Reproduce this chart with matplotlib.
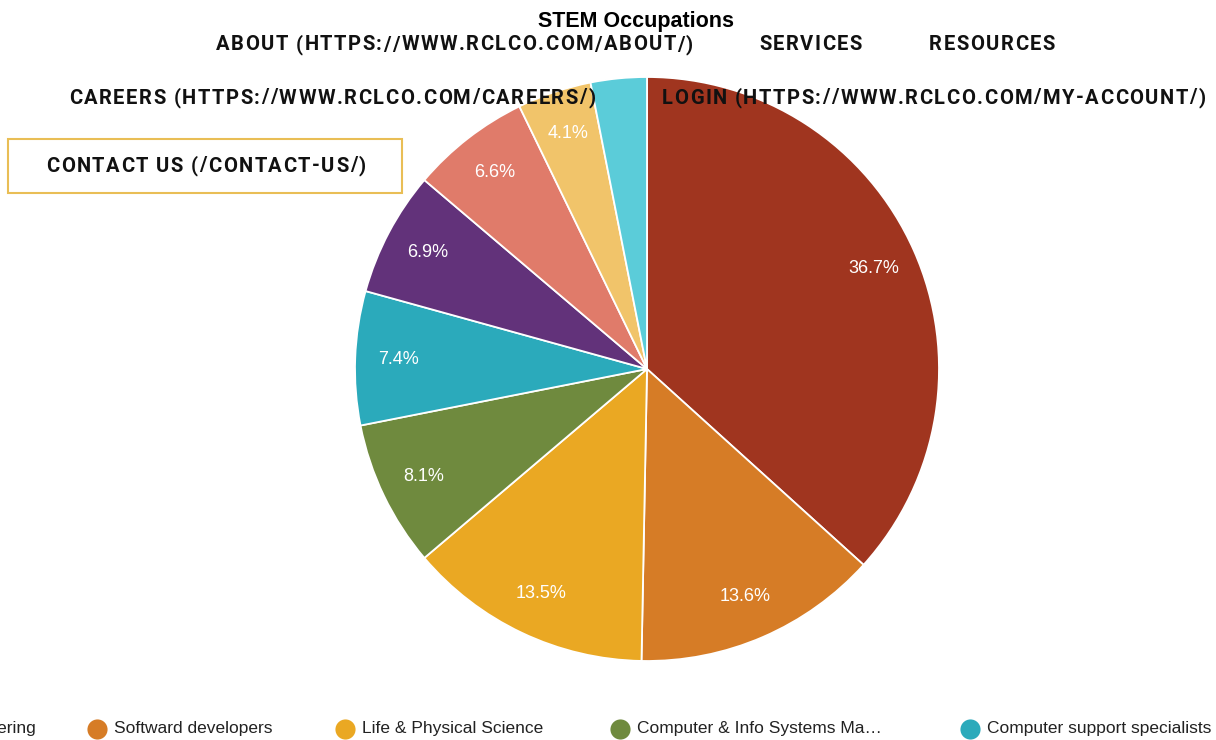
import matplotlib
matplotlib.use("Agg")
from matplotlib import pyplot as plt
from matplotlib.font_manager import FontProperties
from matplotlib.patches import Rectangle

# chart data
categories = ["Engineering", "Softward developers", "Life & Physical Science",
              "Computer & Info Systems Ma\u2026", "Computer support specialists",
              "Mathematical science", "Computer programmers", "Web developers", "Other"]
shares = [36.7, 13.6, 13.5, 8.1, 7.4, 6.9, 6.6, 4.1, 3.1]
colors = ["#A0351F", "#D67C26", "#EAA823", "#6F8A3E", "#2BAABB",
          "#62327A", "#E07B6A", "#F1C46A", "#5BCCD9"]
title = "STEM Occupations"

# website menu that sits over the chart
nav_items = ["ABOUT (HTTPS://WWW.RCLCO.COM/ABOUT/)", "SERVICES", "RESOURCES",
             "CAREERS (HTTPS://WWW.RCLCO.COM/CAREERS/)",
             "LOGIN (HTTPS://WWW.RCLCO.COM/MY-ACCOUNT/)",
             "CONTACT US (/CONTACT-US/)"]
nav_pos = [(216, 45), (759, 45), (929, 45), (69, 98), (662, 98), (46, 166)]

legend_count = 5
legend_x = [-73, 97, 345, 620, 970]
legend_y = 729

W, H = 1216, 740
fig = plt.figure(figsize=(W / 100, H / 100), dpi=100)

# pie
cx, cy, r = 647, 369, 292
ax = fig.add_axes([(cx - r) / W, (H - cy - r) / H, 2 * r / W, 2 * r / H])
wedges, texts, autotexts = ax.pie(
    shares, colors=colors, startangle=90, counterclock=False,
    autopct=lambda p: f"{p:.1f}%" if p >= 4 else "", pctdistance=0.85,
    wedgeprops=dict(edgecolor="white", linewidth=1.3),
    textprops=dict(color="white", fontsize=13, family="Liberation Sans"))
ax.set_xlim(-1, 1)
ax.set_ylim(-1, 1)

# overlay in pixel coordinates
ov = fig.add_axes([0, 0, 1, 1])
ov.set_xlim(0, W)
ov.set_ylim(H, 0)
ov.axis("off")

ov.text(636, 22, title, ha="center", va="center", fontsize=15.5,
        fontweight="bold", family="Liberation Sans", color="#000000")

renderer = fig.canvas.get_renderer()
nav_prop = FontProperties(family="Roboto", weight="bold", size=14.5)


def width_of(s, prop):
    w1 = renderer.get_text_width_height_descent("|" + s + "|", prop, ismath=False)[0]
    w0 = renderer.get_text_width_height_descent("||", prop, ismath=False)[0]
    return w1 - w0


def spaced_text(x, y, s, prop, spacing):
    for i, ch in enumerate(s):
        if ch == " ":
            continue
        xi = x + width_of(s[:i], prop) + i * spacing
        ov.text(xi, y, ch, fontproperties=prop, ha="left", va="center",
                color="#111111", zorder=5)


ov.add_patch(Rectangle((8, 139), 394, 54, facecolor="white",
                       edgecolor="#E9BE55", linewidth=1.5, zorder=3))
for s, (x, y) in zip(nav_items, nav_pos):
    spaced_text(x, y, s, nav_prop, 1.5)

# legend row, only first entries fit
for i in range(legend_count):
    ov.plot(legend_x[i], legend_y, "o", markersize=14.5, color=colors[i],
            markeredgewidth=0, clip_on=False)
    ov.text(legend_x[i] + 17, legend_y, categories[i], ha="left", va="center",
            fontsize=12.5, family="Liberation Sans", color="#222222")

fig.savefig("out.png", dpi=100)
